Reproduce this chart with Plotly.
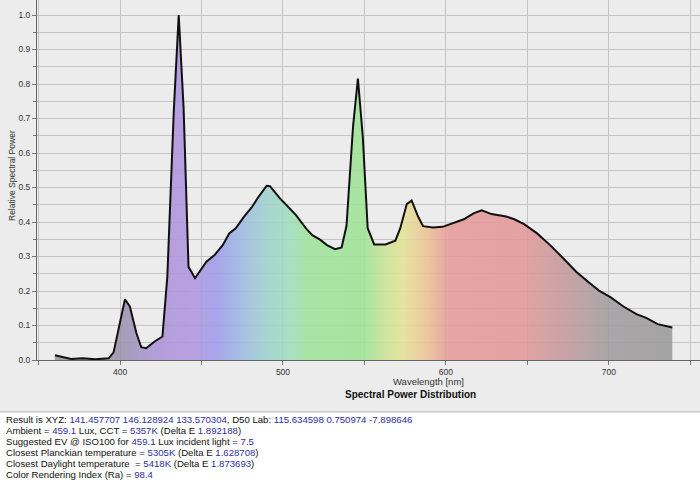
import plotly.graph_objects as go

# ---- data ----
wavelength_nm = [360, 370, 377, 385, 393, 396, 403, 406, 410, 413, 416, 421, 426, 429, 433, 436,
                 439, 442, 446, 453, 458, 463, 467, 471, 476, 481, 485, 490, 492, 498, 504, 508,
                 514, 518, 523, 527, 532, 536, 539, 543, 546, 549, 552, 556, 563, 569, 572, 576,
                 579, 583, 586, 592, 598, 604, 611, 617, 622, 628, 637, 642, 648, 656, 664, 672,
                 680, 688, 694, 701, 709, 717, 723, 730, 739]
relative_power = [0.014, 0.003, 0.005, 0.002, 0.005, 0.022, 0.176, 0.155, 0.078, 0.037, 0.034, 0.053,
                  0.068, 0.241, 0.725, 1.0, 0.73, 0.27, 0.237, 0.285, 0.304, 0.333, 0.367, 0.382,
                  0.415, 0.444, 0.473, 0.505, 0.504, 0.469, 0.44, 0.42, 0.382, 0.362, 0.348, 0.333,
                  0.321, 0.326, 0.389, 0.676, 0.816, 0.647, 0.382, 0.335, 0.335, 0.346, 0.382, 0.452,
                  0.462, 0.415, 0.388, 0.384, 0.386, 0.396, 0.408, 0.425, 0.434, 0.423, 0.416, 0.408,
                  0.394, 0.367, 0.333, 0.295, 0.256, 0.224, 0.201, 0.182, 0.155, 0.133, 0.122, 0.104,
                  0.094]

x_tick_values = [400, 500, 600, 700]
y_tick_values = [0.0, 0.1, 0.2, 0.3, 0.4, 0.5, 0.6, 0.7, 0.8, 0.9, 1.0]

# result text: list of (text, is_value) pieces per line
result_lines = [
    [("Result is XYZ: ", False), ("141.457707 146.128924 133.570304", True), (", D50 Lab: ", False),
     ("115.634598 0.750974 -7.898646", True)],
    [("Ambient = ", False), ("459.1", True), (" Lux, CCT = ", False), ("5357K", True),
     (" (Delta E ", False), ("1.892188", True), (")", False)],
    [("Suggested EV @ ISO100 for ", False), ("459.1", True), (" Lux incident light = ", False), ("7.5", True)],
    [("Closest Planckian temperature = ", False), ("5305K", True), (" (Delta E ", False),
     ("1.628708", True), (")", False)],
    [("Closest Daylight temperature &nbsp;= ", False), ("5418K", True), (" (Delta E ", False),
     ("1.873693", True), (")", False)],
    [("Color Rendering Index (Ra) = ", False), ("98.4", True)],
]

# ---- styling ----
spectrum_stops = [(360, (163, 160, 168)), (400, (164, 158, 180)), (420, (178, 158, 216)),
                  (445, (184, 160, 226)), (458, (168, 164, 234)), (470, (166, 184, 230)),
                  (485, (168, 208, 216)), (505, (168, 224, 192)), (515, (168, 228, 164)),
                  (550, (168, 228, 160)), (565, (212, 228, 160)), (573, (228, 228, 160)),
                  (588, (236, 200, 160)), (602, (230, 164, 164)), (648, (228, 162, 164)),
                  (700, (170, 166, 168)), (740, (164, 164, 164))]
BG = 237
ALPHA = 0.88


def over_bg(rgb):
    c = [max(0, min(255, round((v - (1 - ALPHA) * BG) / ALPHA))) for v in rgb]
    return f"rgba({c[0]},{c[1]},{c[2]},{ALPHA})"


w0, w1 = spectrum_stops[0][0], spectrum_stops[-1][0]
colorscale = [[(w - w0) / (w1 - w0), over_bg(rgb)] for w, rgb in spectrum_stops]

W, H = 700, 480
ML, MT, PH = 37, 0, 360
PW = W - ML


def px_x(px):
    return (px - ML) / PW


def px_y(py):
    return (MT + PH - py) / PH


fig = go.Figure()
fig.add_trace(go.Scatter(
    x=wavelength_nm, y=relative_power, mode="lines",
    line=dict(color="#111111", width=2),
    fill="tozeroy",
    fillgradient=dict(type="horizontal", colorscale=colorscale, start=w0, stop=w1),
    hoverinfo="skip", showlegend=False,
))

grid_c = "#c4c4c4"
fig.update_layout(
    width=W, height=H,
    margin=dict(l=ML, r=0, t=MT, b=H - PH - MT),
    paper_bgcolor="#ececec", plot_bgcolor="#ececec",
    font=dict(family="Liberation Sans, Arial, sans-serif", color="#333333"),
    xaxis=dict(range=[349, 756], tickvals=x_tick_values, ticks="outside", ticklen=4,
               automargin=False,
               tickcolor="#777", tickfont=dict(size=8.5, color="#333"),
               showgrid=True, gridcolor=grid_c, gridwidth=1,
               showline=True, linecolor="#666", linewidth=1, zeroline=False,
               minor=dict(dtick=50, tick0=0, showgrid=True, gridcolor=grid_c, ticks="outside",
                          ticklen=4, tickcolor="#777")),
    yaxis=dict(range=[0, PH / 345], tickvals=y_tick_values, ticktext=[f"{v:.1f}" for v in y_tick_values],
               automargin=False,
               ticks="outside", ticklen=4, tickcolor="#777", tickfont=dict(size=8.5, color="#333"),
               showgrid=True, gridcolor=grid_c, gridwidth=1,
               showline=True, linecolor="#666", linewidth=1, zeroline=False,
               minor=dict(dtick=0.05, tick0=0, showgrid=True, gridcolor=grid_c, ticks="outside",
                          ticklen=3, tickcolor="#777")),
)

# white results box
fig.add_shape(type="rect", xref="paper", yref="paper", x0=px_x(-2), x1=px_x(W + 2),
              y0=px_y(H + 2), y1=px_y(412), fillcolor="white",
              line=dict(color="#b5b5b5", width=1), layer="above")

# axis titles
fig.add_annotation(text="Wavelength [nm]", xref="paper", yref="paper", x=px_x(428), y=px_y(381),
                   showarrow=False, font=dict(size=9.5, color="#333"), xanchor="center", yanchor="middle")
fig.add_annotation(text="<b>Spectral Power Distribution</b>", xref="paper", yref="paper",
                   x=px_x(410), y=px_y(394), showarrow=False, font=dict(size=10, color="#111"),
                   xanchor="center", yanchor="middle")
fig.add_annotation(text="Relative Spectral Power", xref="paper", yref="paper", x=px_x(12), y=px_y(176),
                   textangle=-90, showarrow=False, font=dict(size=8.5, color="#333"),
                   xanchor="center", yanchor="middle")

value_color = "#2e2e9e"
line_y = [419, 430, 441.3, 452.5, 463.5, 474.3]
for pieces, py in zip(result_lines, line_y):
    txt = "".join(f"<span style='color:{value_color}'>{t}</span>" if v else t for t, v in pieces)
    fig.add_annotation(text=txt, xref="paper", yref="paper", x=px_x(4), y=px_y(py),
                       showarrow=False, xanchor="left", yanchor="middle", align="left",
                       font=dict(size=9.6, color="#111"))

fig.write_html("out.html", config={"displayModeBar": False},
               post_script="document.body.style.margin='0px';")
